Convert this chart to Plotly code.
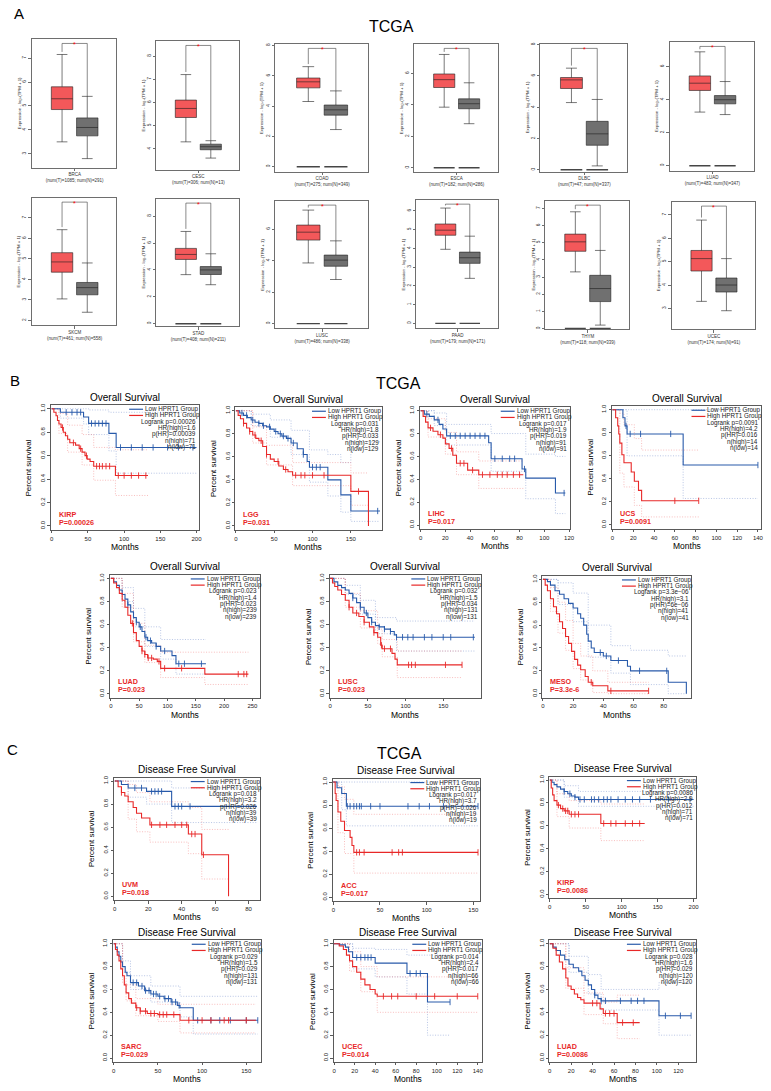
import plotly.graph_objects as go

W, H = 771, 1091
FONT = 'Liberation Sans, Arial, sans-serif'
BLUE = 'rgb(40, 90, 170)'
RED = 'rgb(232, 40, 40)'
BLUE_CI = 'rgba(120, 145, 205, 0.75)'
RED_CI = 'rgba(242, 130, 130, 0.75)'
TUMOR_FILL = 'rgb(243, 88, 90)'
NORMAL_FILL = 'rgb(112, 112, 112)'
FRAME = 'rgb(90, 90, 90)'

# ---------------- Panel A: expression box plots ----------------
BOX_NAMES = ['BRCA', 'CESC', 'COAD', 'ESCA', 'DLBC', 'LUAD',
             'SKCM', 'STAD', 'LUSC', 'PAAD', 'THYM', 'UCEC']
NUM_T = [1085, 306, 275, 182, 47, 483, 461, 408, 486, 179, 118, 174]
NUM_N = [291, 13, 349, 286, 337, 347, 558, 211, 338, 171, 339, 91]

TUMOR_LO = [3.5, 4.3, 4.3, 3.85, 4.3, 3.25, 3.05, 3.65, 3.85, 3.95, 3.3, 3.3]
TUMOR_Q1 = [4.85, 5.35, 5.2, 5.1, 5.2, 4.56, 4.35, 4.78, 5.3, 4.7, 4.5, 4.6]
TUMOR_MED = [5.3, 5.74, 5.6, 5.6, 5.75, 5.0, 4.85, 5.15, 5.8, 4.97, 5.05, 5.13]
TUMOR_Q3 = [5.8, 6.1, 5.85, 5.96, 5.9, 5.44, 5.3, 5.6, 6.25, 5.3, 5.5, 5.48]
TUMOR_HI = [7.15, 7.2, 6.6, 7.2, 6.5, 6.9, 6.42, 6.86, 7.2, 6.15, 6.8, 6.78]

NORMAL_LO = [2.8, 3.6, 2.45, 2.8, 0.25, 3.1, 2.4, 2.9, 2.8, 2.4, 0.2, 2.9]
NORMAL_Q1 = [3.75, 3.96, 3.4, 3.75, 1.57, 3.75, 3.25, 3.66, 3.64, 3.2, 1.57, 3.7]
NORMAL_MED = [4.1, 4.09, 3.75, 4.07, 2.3, 4.0, 3.6, 4.0, 4.03, 3.5, 2.33, 4.0]
NORMAL_Q3 = [4.5, 4.2, 4.07, 4.38, 3.1, 4.25, 3.85, 4.25, 4.35, 3.8, 3.1, 4.3]
NORMAL_HI = [5.4, 4.35, 5.0, 5.4, 4.5, 5.1, 4.8, 5.2, 5.25, 4.65, 4.55, 5.13]

BOX_TICKS = [[3, 4, 5, 6, 7], [4, 5, 6, 7, 8], [0, 2, 4, 6, 8], [0, 2, 4, 6],
             [0, 2, 4, 6, 8], [0, 2, 4, 6], [2, 3, 4, 5, 6, 7], [0, 2, 4, 6, 8],
             [0, 2, 4, 6], [0, 1, 2, 3, 4, 5, 6], [0, 1, 2, 3, 4, 5, 6, 7],
             [3, 4, 5, 6, 7]]
BOX_YRANGE = [(2.42, 7.8), (3.1, 8.65), (-0.33, 8.1), (-0.25, 7.87), (-0.12, 8.05),
              (-0.3, 7.5), (1.76, 7.98), (-0.2, 9.3), (-0.3, 7.8), (-0.27, 6.6),
              (-0.05, 7.45), (2.1, 7.57)]
BOX_PX = [(31, 116, 37, 166), (156, 240, 39, 168), (276, 369, 42, 170),
          (416, 500, 42, 170), (543, 630, 42, 170), (673, 758, 40, 169),
          (31, 116, 196, 324), (156, 240, 197, 325), (276, 369, 199, 327),
          (418, 500, 198, 327), (548, 632, 199, 328), (675, 759, 200, 328)]
GROUP_POS = [1, 2]
ZERO_LEVEL = 0

# ---------------- Panels B / C: Kaplan-Meier curves ----------------
# (months, survival) after each step
KIRP_OS_LOW = [(0, 1), (12, 0.97), (44, 0.93), (51, 0.875), (79, 0.79), (89, 0.67), (200, 0.67)]
KIRP_OS_HIGH = [(0, 1), (3, 0.97), (6, 0.94), (8, 0.9), (10, 0.87), (13, 0.84), (16, 0.8),
                (19, 0.77), (22, 0.74), (25, 0.71), (33, 0.69), (38, 0.66), (42, 0.63),
                (46, 0.6), (49, 0.57), (53, 0.55), (58, 0.51), (88, 0.43), (133, 0.43)]
KIRP_OS_LOW_CI = [(0, 1, 1), (12, 0.92, 1), (44, 0.87, 1), (51, 0.78, 0.99),
                  (79, 0.64, 0.97), (89, 0.45, 0.97), (200, 0.45, 0.97)]
KIRP_OS_HIGH_CI = [(0, 1, 1), (10, 0.79, 0.96), (22, 0.63, 0.86), (42, 0.52, 0.78),
                   (58, 0.39, 0.67), (88, 0.26, 0.65), (133, 0.26, 0.65)]
KIRP_OS_LOW_CENS = [20, 28, 35, 40, 55, 60, 65, 70, 75, 95, 110, 125, 140, 160, 175, 195]
KIRP_OS_HIGH_CENS = [15, 30, 40, 48, 62, 66, 70, 75, 80, 92, 100, 110, 120, 130]

LGG_OS_LOW = [(0, 1), (5, 0.98), (10, 0.96), (15, 0.94), (20, 0.92), (25, 0.9), (30, 0.89),
              (35, 0.87), (40, 0.86), (45, 0.84), (50, 0.82), (55, 0.8), (60, 0.78),
              (66, 0.76), (72, 0.72), (80, 0.67), (88, 0.62), (93, 0.56), (96, 0.51),
              (120, 0.4), (137, 0.27), (150, 0.13), (188, 0.13)]
LGG_OS_HIGH = [(0, 1), (3, 0.96), (6, 0.93), (10, 0.89), (14, 0.85), (18, 0.82), (22, 0.79),
               (26, 0.76), (30, 0.74), (35, 0.69), (40, 0.62), (45, 0.58), (50, 0.56),
               (56, 0.52), (62, 0.49), (68, 0.47), (74, 0.44), (150, 0.3), (173, 0.0)]
LGG_OS_LOW_CI = [(0, 1, 1), (20, 0.87, 0.97), (45, 0.77, 0.92), (72, 0.62, 0.83),
                 (96, 0.38, 0.66), (120, 0.26, 0.62), (137, 0.12, 0.55), (150, 0.04, 0.73),
                 (188, 0.04, 0.73)]
LGG_OS_HIGH_CI = [(0, 1, 1), (22, 0.72, 0.86), (40, 0.53, 0.7), (74, 0.35, 0.55),
                  (150, 0.18, 0.46), (173, 0.0, 0.46)]
LGG_OS_LOW_CENS = [8, 14, 22, 30, 36, 44, 52, 58, 62, 68, 75, 88, 100, 105, 110, 185]
LGG_OS_HIGH_CENS = [10, 18, 25, 33, 40, 55, 65, 78, 85, 90, 100, 115, 160]

LIHC_OS_LOW = [(0, 1), (3, 0.97), (7, 0.95), (11, 0.92), (15, 0.88), (18, 0.84), (21, 0.78),
               (55, 0.72), (57, 0.58), (82, 0.49), (85, 0.41), (109, 0.28), (117, 0.28)]
LIHC_OS_HIGH = [(0, 1), (2, 0.95), (4, 0.9), (6, 0.85), (10, 0.82), (14, 0.79), (18, 0.76),
                (20, 0.71), (23, 0.67), (26, 0.61), (29, 0.54), (38, 0.48), (47, 0.44),
                (83, 0.44)]
LIHC_OS_LOW_CI = [(0, 1, 1), (11, 0.87, 0.98), (21, 0.7, 0.88), (57, 0.47, 0.8),
                  (85, 0.23, 0.62), (109, 0.1, 0.6), (117, 0.1, 0.6)]
LIHC_OS_HIGH_CI = [(0, 1, 1), (6, 0.77, 0.93), (20, 0.62, 0.81), (29, 0.44, 0.64),
                   (47, 0.32, 0.56), (83, 0.32, 0.56)]
LIHC_OS_LOW_CENS = [5, 14, 24, 28, 32, 36, 40, 44, 48, 52, 60, 66, 72, 76, 84, 116]
LIHC_OS_HIGH_CENS = [8, 16, 25, 32, 35, 42, 50, 56, 62, 66, 70, 75, 80]

UCS_OS_LOW = [(0, 1), (10, 0.93), (12, 0.86), (14, 0.79), (68, 0.52), (140, 0.52)]
UCS_OS_HIGH = [(0, 1), (3, 0.93), (5, 0.86), (6, 0.79), (7, 0.71), (9, 0.61), (11, 0.54),
               (18, 0.46), (21, 0.38), (25, 0.3), (28, 0.21), (83, 0.21)]
UCS_OS_LOW_CI = [(0, 1, 1), (14, 0.6, 1), (68, 0.23, 1), (140, 0.23, 1)]
UCS_OS_HIGH_CI = [(0, 1, 1), (7, 0.45, 0.97), (11, 0.33, 0.87), (21, 0.17, 0.75),
                  (28, 0.07, 0.65), (83, 0.07, 0.65)]
UCS_OS_LOW_CENS = [13, 17, 27, 56, 140]
UCS_OS_HIGH_CENS = [60, 83]

LUAD_OS_LOW = [(0, 1), (5, 0.97), (10, 0.94), (15, 0.9), (20, 0.86), (25, 0.82), (30, 0.77),
               (35, 0.71), (40, 0.66), (45, 0.62), (50, 0.58), (55, 0.54), (60, 0.49),
               (65, 0.46), (72, 0.44), (80, 0.41), (88, 0.37), (108, 0.33), (115, 0.26),
               (168, 0.26)]
LUAD_OS_HIGH = [(0, 1), (5, 0.96), (10, 0.92), (15, 0.87), (20, 0.81), (25, 0.75), (30, 0.68),
                (35, 0.61), (40, 0.53), (45, 0.46), (50, 0.41), (55, 0.37), (60, 0.34),
                (65, 0.31), (75, 0.3), (82, 0.28), (88, 0.22), (166, 0.17), (243, 0.17)]
LUAD_OS_LOW_CI = [(0, 1, 1), (20, 0.8, 0.92), (40, 0.58, 0.74), (60, 0.41, 0.58),
                  (88, 0.3, 0.47), (115, 0.17, 0.47), (168, 0.17, 0.47)]
LUAD_OS_HIGH_CI = [(0, 1, 1), (20, 0.75, 0.87), (40, 0.45, 0.61), (60, 0.27, 0.42),
                   (88, 0.14, 0.36), (166, 0.08, 0.36), (243, 0.08, 0.36)]
LUAD_OS_LOW_CENS = [30, 45, 52, 62, 70, 80, 95, 120, 130, 160]
LUAD_OS_HIGH_CENS = [38, 55, 60, 66, 72, 85, 95, 125, 225, 235, 240]

LUSC_OS_LOW = [(0, 1), (5, 0.97), (10, 0.94), (15, 0.92), (20, 0.9), (25, 0.87), (30, 0.83),
               (35, 0.79), (40, 0.75), (45, 0.7), (50, 0.66), (55, 0.62), (60, 0.59),
               (65, 0.58), (72, 0.56), (80, 0.54), (85, 0.51), (88, 0.49), (192, 0.49)]
LUSC_OS_HIGH = [(0, 1), (3, 0.96), (6, 0.93), (10, 0.9), (15, 0.86), (20, 0.81), (25, 0.75),
                (30, 0.7), (38, 0.67), (45, 0.62), (52, 0.58), (58, 0.53), (63, 0.49),
                (67, 0.42), (69, 0.39), (82, 0.35), (86, 0.3), (89, 0.25), (175, 0.25)]
LUSC_OS_LOW_CI = [(0, 1, 1), (20, 0.86, 0.94), (40, 0.69, 0.81), (60, 0.52, 0.66),
                  (88, 0.37, 0.63), (192, 0.37, 0.63)]
LUSC_OS_HIGH_CI = [(0, 1, 1), (20, 0.75, 0.87), (40, 0.57, 0.72), (63, 0.43, 0.56),
                   (69, 0.32, 0.47), (89, 0.14, 0.37), (175, 0.14, 0.37)]
LUSC_OS_LOW_CENS = [30, 40, 48, 55, 65, 72, 80, 88, 96, 103, 110, 125, 135, 150, 160, 190]
LUSC_OS_HIGH_CENS = [25, 35, 45, 58, 68, 72, 80, 104, 108, 113, 153, 175]

MESO_OS_LOW = [(0, 1), (3, 0.98), (5, 0.95), (8, 0.9), (11, 0.87), (14, 0.83), (17, 0.79),
               (20, 0.75), (23, 0.7), (25, 0.66), (27, 0.6), (29, 0.52), (30, 0.46),
               (32, 0.4), (34, 0.36), (40, 0.33), (45, 0.29), (56, 0.24), (58, 0.2),
               (83, 0.1), (95, 0.0)]
MESO_OS_HIGH = [(0, 1), (1.5, 0.95), (3, 0.9), (5, 0.83), (7, 0.76), (9, 0.7), (11, 0.63),
                (13, 0.57), (15, 0.5), (17, 0.44), (19, 0.37), (21, 0.3), (23, 0.25),
                (25, 0.21), (28, 0.15), (30, 0.1), (33, 0.07), (43, 0.025), (70, 0.025)]
MESO_OS_LOW_CI = [(0, 1, 1), (10, 0.78, 0.97), (20, 0.63, 0.88), (30, 0.32, 0.6),
                  (45, 0.18, 0.42), (58, 0.08, 0.38), (83, 0.0, 0.33), (95, 0.0, 0.33)]
MESO_OS_HIGH_CI = [(0, 1, 1), (5, 0.72, 0.93), (10, 0.53, 0.8), (15, 0.38, 0.64),
                   (20, 0.22, 0.44), (25, 0.12, 0.33), (33, 0.01, 0.2), (43, 0.0, 0.1),
                   (70, 0.0, 0.1)]
MESO_OS_LOW_CENS = [38, 42, 50, 64, 82]
MESO_OS_HIGH_CENS = [32, 45, 70]

UVM_DFS_LOW = [(0, 1), (4, 0.97), (8, 0.94), (19, 0.91), (34, 0.78), (85, 0.78)]
UVM_DFS_HIGH = [(0, 1), (2, 0.95), (4, 0.9), (6, 0.87), (8, 0.82), (11, 0.77), (13, 0.72),
                (16, 0.68), (21, 0.62), (44, 0.54), (52, 0.36), (68, 0.0)]
UVM_DFS_LOW_CI = [(0, 1, 1), (8, 0.86, 1), (19, 0.8, 1), (34, 0.64, 0.94), (85, 0.64, 0.94)]
UVM_DFS_HIGH_CI = [(0, 1, 1), (8, 0.67, 0.97), (13, 0.56, 0.9), (21, 0.47, 0.82),
                   (44, 0.37, 0.77), (52, 0.15, 0.58), (68, 0.15, 0.58)]
UVM_DFS_LOW_CENS = [12, 16, 22, 24, 26, 28, 36, 38, 40, 45]
UVM_DFS_HIGH_CENS = [4, 22, 27, 31, 36, 40, 43, 46, 48, 53]

ACC_DFS_LOW = [(0, 1), (4, 0.95), (9, 0.9), (14, 0.79), (155, 0.79)]
ACC_DFS_HIGH = [(0, 1), (2, 0.9), (3, 0.84), (5, 0.74), (8, 0.66), (12, 0.58), (18, 0.52),
                (20, 0.45), (22, 0.39), (155, 0.39)]
ACC_DFS_LOW_CI = [(0, 1, 1), (9, 0.76, 1), (14, 0.62, 1), (155, 0.62, 1)]
ACC_DFS_HIGH_CI = [(0, 1, 1), (5, 0.56, 0.96), (12, 0.38, 0.85), (22, 0.21, 0.72),
                   (155, 0.21, 0.72)]
ACC_DFS_LOW_CENS = [15, 18, 22, 25, 28, 30, 40, 50, 80, 92, 103, 118, 155]
ACC_DFS_HIGH_CENS = [25, 28, 33, 63, 70, 74, 155]

KIRP_DFS_LOW = [(0, 1), (3, 0.98), (6, 0.96), (10, 0.94), (15, 0.92), (20, 0.9), (25, 0.88),
                (30, 0.86), (35, 0.85), (40, 0.83), (200, 0.83)]
KIRP_DFS_HIGH = [(0, 1), (2, 0.93), (4, 0.87), (6, 0.82), (10, 0.78), (15, 0.75), (20, 0.73),
                 (27, 0.7), (71, 0.62), (132, 0.62)]
KIRP_DFS_LOW_CI = [(0, 1, 1), (20, 0.85, 0.95), (40, 0.77, 0.9), (200, 0.77, 0.9)]
KIRP_DFS_HIGH_CI = [(0, 1, 1), (10, 0.68, 0.88), (27, 0.58, 0.82), (71, 0.47, 0.79),
                    (132, 0.47, 0.79)]
KIRP_DFS_LOW_CENS = [20, 28, 35, 42, 48, 58, 62, 68, 75, 80, 85, 95, 105, 115, 125, 140, 165, 195]
KIRP_DFS_HIGH_CENS = [12, 18, 22, 25, 30, 35, 40, 75, 85, 92, 105, 115, 125]

SARC_DFS_LOW = [(0, 1), (2, 0.97), (4, 0.93), (6, 0.89), (8, 0.84), (10, 0.8), (13, 0.75),
                (15, 0.72), (19, 0.66), (28, 0.63), (35, 0.59), (42, 0.56), (50, 0.54),
                (57, 0.52), (65, 0.49), (72, 0.46), (75, 0.44), (90, 0.33), (163, 0.33)]
SARC_DFS_HIGH = [(0, 1), (2, 0.95), (4, 0.9), (6, 0.85), (8, 0.78), (10, 0.72), (12, 0.64),
                 (14, 0.57), (17, 0.52), (20, 0.48), (25, 0.44), (30, 0.41), (38, 0.39),
                 (50, 0.38), (75, 0.33), (161, 0.33)]
SARC_DFS_LOW_CI = [(0, 1, 1), (10, 0.75, 0.85), (19, 0.6, 0.72), (42, 0.49, 0.63),
                   (75, 0.36, 0.54), (90, 0.21, 0.54), (163, 0.21, 0.54)]
SARC_DFS_HIGH_CI = [(0, 1, 1), (10, 0.66, 0.78), (14, 0.5, 0.64), (25, 0.37, 0.52),
                    (50, 0.32, 0.47), (75, 0.22, 0.47), (161, 0.22, 0.47)]
SARC_DFS_LOW_CENS = [22, 26, 32, 36, 40, 45, 48, 52, 58, 62, 66, 70, 74, 95, 110, 120, 132, 150, 163]
SARC_DFS_HIGH_CENS = [26, 30, 36, 42, 46, 52, 56, 60, 68, 85, 100, 110, 125, 130, 150]

UCEC_DFS_LOW = [(0, 1), (5, 0.99), (11, 0.97), (14, 0.93), (18, 0.88), (40, 0.83),
                (71, 0.74), (91, 0.49), (113, 0.49)]
UCEC_DFS_HIGH = [(0, 1), (5, 0.98), (9, 0.95), (12, 0.9), (15, 0.85), (18, 0.8), (22, 0.75),
                 (26, 0.69), (30, 0.64), (35, 0.6), (40, 0.56), (42, 0.54), (140, 0.54)]
UCEC_DFS_LOW_CI = [(0, 1, 1), (18, 0.78, 0.96), (40, 0.71, 0.95), (71, 0.56, 0.9),
                   (91, 0.2, 0.9), (113, 0.2, 0.9)]
UCEC_DFS_HIGH_CI = [(0, 1, 1), (15, 0.76, 0.93), (26, 0.58, 0.8), (42, 0.4, 0.71),
                    (140, 0.4, 0.71)]
UCEC_DFS_LOW_CENS = [22, 26, 30, 33, 36, 74, 80, 84, 113]
UCEC_DFS_HIGH_CENS = [48, 56, 62, 80, 98, 120, 140]

LUAD_DFS_LOW = [(0, 1), (3, 0.97), (6, 0.94), (10, 0.9), (14, 0.86), (18, 0.82), (22, 0.79),
                (27, 0.76), (30, 0.72), (33, 0.68), (36, 0.64), (39, 0.6), (42, 0.55),
                (45, 0.52), (48, 0.5), (102, 0.37), (132, 0.37)]
LUAD_DFS_HIGH = [(0, 1), (3, 0.96), (6, 0.9), (9, 0.84), (12, 0.78), (15, 0.7), (17, 0.63),
                 (20, 0.6), (23, 0.56), (26, 0.53), (29, 0.51), (32, 0.48), (47, 0.43),
                 (50, 0.39), (63, 0.31), (84, 0.31)]
LUAD_DFS_LOW_CI = [(0, 1, 1), (18, 0.75, 0.89), (36, 0.56, 0.73), (48, 0.42, 0.6),
                   (102, 0.2, 0.66), (132, 0.2, 0.66)]
LUAD_DFS_HIGH_CI = [(0, 1, 1), (15, 0.61, 0.79), (32, 0.38, 0.57), (50, 0.3, 0.49),
                    (63, 0.17, 0.55), (84, 0.17, 0.55)]
LUAD_DFS_LOW_CENS = [42, 48, 52, 66, 76, 82, 88, 108, 122, 132]
LUAD_DFS_HIGH_CENS = [40, 44, 52, 56, 60, 68, 78]

OS = 'Overall Survival'
DFS = 'Disease Free Survival'

KM_PANELS = [
    dict(px=(50, 199, 404, 529), xr=(-1.4, 203), step=50, xmax=200, title=OS,
         low=KIRP_OS_LOW, high=KIRP_OS_HIGH, low_ci=KIRP_OS_LOW_CI, high_ci=KIRP_OS_HIGH_CI,
         low_c=KIRP_OS_LOW_CENS, high_c=KIRP_OS_HIGH_CENS,
         stats=['Logrank p=0.00026', 'HR(high)=1.6', 'p(HR)=0.00039', 'n(high)=71', 'n(low)=71'],
         label='KIRP', p='P=0.00026'),
    dict(px=(236, 383, 406, 529), xr=(-0.5, 190), step=50, xmax=150, title=OS,
         low=LGG_OS_LOW, high=LGG_OS_HIGH, low_ci=LGG_OS_LOW_CI, high_ci=LGG_OS_HIGH_CI,
         low_c=LGG_OS_LOW_CENS, high_c=LGG_OS_HIGH_CENS,
         stats=['Logrank p=0.031', 'HR(high)=1.8', 'p(HR)=0.033', 'n(high)=129', 'n(low)=129'],
         label='LGG', p='P=0.031'),
    dict(px=(422, 573, 406, 528), xr=(-0.3, 121), step=20, xmax=120, title=OS,
         low=LIHC_OS_LOW, high=LIHC_OS_HIGH, low_ci=LIHC_OS_LOW_CI, high_ci=LIHC_OS_HIGH_CI,
         low_c=LIHC_OS_LOW_CENS, high_c=LIHC_OS_HIGH_CENS,
         stats=['Logrank p=0.017', 'HR(high)=1.9', 'p(HR)=0.019', 'n(high)=91', 'n(low)=91'],
         label='LIHC', p='P=0.017'),
    dict(px=(615, 765, 405, 528), xr=(-0.5, 143), step=20, xmax=140, title=OS,
         low=UCS_OS_LOW, high=UCS_OS_HIGH, low_ci=UCS_OS_LOW_CI, high_ci=UCS_OS_HIGH_CI,
         low_c=UCS_OS_LOW_CENS, high_c=UCS_OS_HIGH_CENS,
         stats=['Logrank p=0.0091', 'HR(high)=4.2', 'p(HR)=0.016', 'n(high)=14', 'n(low)=14'],
         label='UCS', p='P=0.0091'),
    dict(px=(110, 261, 574, 697), xr=(-1, 264), step=50, xmax=250, title=OS,
         low=LUAD_OS_LOW, high=LUAD_OS_HIGH, low_ci=LUAD_OS_LOW_CI, high_ci=LUAD_OS_HIGH_CI,
         low_c=LUAD_OS_LOW_CENS, high_c=LUAD_OS_HIGH_CENS,
         stats=['Logrank p=0.023', 'HR(high)=1.4', 'p(HR)=0.023', 'n(high)=239', 'n(low)=239'],
         label='LUAD', p='P=0.023'),
    dict(px=(331, 483, 574, 697), xr=(-0.5, 200), step=50, xmax=150, title=OS,
         low=LUSC_OS_LOW, high=LUSC_OS_HIGH, low_ci=LUSC_OS_LOW_CI, high_ci=LUSC_OS_HIGH_CI,
         low_c=LUSC_OS_LOW_CENS, high_c=LUSC_OS_HIGH_CENS,
         stats=['Logrank p=0.032', 'HR(high)=1.5', 'p(HR)=0.034', 'n(high)=131', 'n(low)=131'],
         label='LUSC', p='P=0.023'),
    dict(px=(545, 695, 575, 697), xr=(-0.3, 98.4), step=20, xmax=80, title=OS,
         low=MESO_OS_LOW, high=MESO_OS_HIGH, low_ci=MESO_OS_LOW_CI, high_ci=MESO_OS_HIGH_CI,
         low_c=MESO_OS_LOW_CENS, high_c=MESO_OS_HIGH_CENS,
         stats=['Logrank p=3.3e\u221206', 'HR(high)=3.1', 'p(HR)=6e\u221206', 'n(high)=41', 'n(low)=41'],
         label='MESO', p='P=3.3e-6'),
    dict(px=(114, 261, 777, 900), xr=(-0.3, 87), step=20, xmax=80, title=DFS,
         low=UVM_DFS_LOW, high=UVM_DFS_HIGH, low_ci=UVM_DFS_LOW_CI, high_ci=UVM_DFS_HIGH_CI,
         low_c=UVM_DFS_LOW_CENS, high_c=UVM_DFS_HIGH_CENS,
         stats=['Logrank p=0.018', 'HR(high)=3.2', 'p(HR)=0.026', 'n(high)=39', 'n(low)=39'],
         label='UVM', p='P=0.018'),
    dict(px=(334, 482, 778, 901), xr=(-0.5, 157), step=50, xmax=150, title=DFS,
         low=ACC_DFS_LOW, high=ACC_DFS_HIGH, low_ci=ACC_DFS_LOW_CI, high_ci=ACC_DFS_HIGH_CI,
         low_c=ACC_DFS_LOW_CENS, high_c=ACC_DFS_HIGH_CENS,
         stats=['Logrank p=0.017', 'HR(high)=3.7', 'p(HR)=0.026', 'n(high)=19', 'n(low)=19'],
         label='ACC', p='P=0.017'),
    dict(px=(552, 700, 776, 898), xr=(-0.5, 204), step=50, xmax=200, title=DFS,
         low=KIRP_DFS_LOW, high=KIRP_DFS_HIGH, low_ci=KIRP_DFS_LOW_CI, high_ci=KIRP_DFS_HIGH_CI,
         low_c=KIRP_DFS_LOW_CENS, high_c=KIRP_DFS_HIGH_CENS,
         stats=['Logrank p=0.0086', 'HR(high)=2.9', 'p(HR)=0.012', 'n(high)=71', 'n(low)=71'],
         label='KIRP', p='P=0.0086'),
    dict(px=(113, 262, 940, 1062), xr=(-0.5, 167), step=50, xmax=150, title=DFS,
         low=SARC_DFS_LOW, high=SARC_DFS_HIGH, low_ci=SARC_DFS_LOW_CI, high_ci=SARC_DFS_HIGH_CI,
         low_c=SARC_DFS_LOW_CENS, high_c=SARC_DFS_HIGH_CENS,
         stats=['Logrank p=0.029', 'HR(high)=1.5', 'p(HR)=0.029', 'n(high)=131', 'n(low)=131'],
         label='SARC', p='P=0.029'),
    dict(px=(335, 484, 940, 1062), xr=(-0.3, 144), step=20, xmax=140, title=DFS,
         low=UCEC_DFS_LOW, high=UCEC_DFS_HIGH, low_ci=UCEC_DFS_LOW_CI, high_ci=UCEC_DFS_HIGH_CI,
         low_c=UCEC_DFS_LOW_CENS, high_c=UCEC_DFS_HIGH_CENS,
         stats=['Logrank p=0.014', 'HR(high)=2.4', 'p(HR)=0.017', 'n(high)=66', 'n(low)=66'],
         label='UCEC', p='P=0.014'),
    dict(px=(552, 700, 940, 1062), xr=(-0.3, 137), step=20, xmax=120, title=DFS,
         low=LUAD_DFS_LOW, high=LUAD_DFS_HIGH, low_ci=LUAD_DFS_LOW_CI, high_ci=LUAD_DFS_HIGH_CI,
         low_c=LUAD_DFS_LOW_CENS, high_c=LUAD_DFS_HIGH_CENS,
         stats=['Logrank p=0.028', 'HR(high)=1.6', 'p(HR)=0.029', 'n(high)=120', 'n(low)=120'],
         label='LUAD', p='P=0.0086'),
]

fig = go.Figure()
layout = {}
annotations = []
shapes = []


def px_x(x):
    return x / W


def px_y(y):
    return 1 - y / H


def text(x, y, s, size, color='black', xanchor='center', angle=0, bold=False, family=FONT):
    if bold:
        s = '<b>' + s + '</b>'
    annotations.append(dict(
        x=px_x(x), y=px_y(y), xref='paper', yref='paper', text=s, showarrow=False,
        xanchor=xanchor, yanchor='middle', textangle=angle, borderpad=0,
        font=dict(size=size, color=color, family=family),
    ))


def axes(n, box, xr, yr, xaxis_extra, yaxis_extra, line_color):
    x0, x1, y0, y1 = box
    base = dict(showline=True, mirror=True, linecolor=line_color, linewidth=0.8,
                showgrid=False, zeroline=False, ticks='outside', tickcolor=line_color,
                ticklen=2.5, tickwidth=0.6)
    xa = dict(base, domain=[px_x(x0), px_x(x1)], range=list(xr), anchor='y%d' % n)
    ya = dict(base, domain=[px_y(y1), px_y(y0)], range=list(yr), anchor='x%d' % n)
    xa.update(xaxis_extra)
    ya.update(yaxis_extra)
    layout['xaxis%d' % n] = xa
    layout['yaxis%d' % n] = ya
    return 'x%d' % n, 'y%d' % n


n_axis = 0

# ---------- Panel A ----------
for i, name in enumerate(BOX_NAMES):
    n_axis += 1
    box = BOX_PX[i]
    yr = BOX_YRANGE[i]
    xa, ya = axes(
        n_axis, box, (-0.2, 3.15), yr,
        dict(tickvals=[1.5], ticktext=['%s<br>(num(T)=%d; num(N)=%d)' % (name, NUM_T[i], NUM_N[i])],
             tickfont=dict(size=4.5, family=FONT, color='#333')),
        dict(tickvals=BOX_TICKS[i], tickangle=-90, tickfont=dict(size=4.8, family=FONT, color='#333')),
        'rgb(110,110,110)',
    )
    groups = [
        (TUMOR_LO, TUMOR_Q1, TUMOR_MED, TUMOR_Q3, TUMOR_HI, TUMOR_FILL),
        (NORMAL_LO, NORMAL_Q1, NORMAL_MED, NORMAL_Q3, NORMAL_HI, NORMAL_FILL),
    ]
    for pos, (lo, q1, med, q3, hi, fill) in zip(GROUP_POS, groups):
        # zero-expression baseline bar
        fig.add_trace(go.Scatter(
            x=[pos - 0.42, pos + 0.42], y=[ZERO_LEVEL, ZERO_LEVEL], mode='lines',
            line=dict(color='rgb(70,70,70)', width=1.4), xaxis=xa, yaxis=ya,
            showlegend=False, hoverinfo='skip',
        ))
        fig.add_trace(go.Box(
            x=[pos], q1=[q1[i]], median=[med[i]], q3=[q3[i]],
            lowerfence=[lo[i]], upperfence=[hi[i]],
            fillcolor=fill, line=dict(color='rgb(30,30,30)', width=0.6),
            width=0.85, whiskerwidth=0.5, boxpoints=False,
            xaxis=xa, yaxis=ya, showlegend=False,
        ))
    span = yr[1] - yr[0]
    top = yr[1] - 0.035 * span
    fig.add_trace(go.Scatter(
        x=[GROUP_POS[0], GROUP_POS[0], GROUP_POS[1], GROUP_POS[1]],
        y=[TUMOR_HI[i] + 0.02 * span, top, top, NORMAL_HI[i]],
        mode='lines', line=dict(color='rgb(60,60,60)', width=0.6),
        xaxis=xa, yaxis=ya, showlegend=False, hoverinfo='skip',
    ))
    annotations.append(dict(
        x=sum(GROUP_POS) / 2, y=top, xref=xa, yref=ya, text='*', showarrow=False,
        yanchor='middle', font=dict(size=7, color='red', family=FONT), yshift=-1,
    ))
    x0, x1, y0, y1 = box
    text(x0 - 13, (y0 + y1) / 2, 'Expression - log\u2082(TPM + 1)', 4.3, color='#333', angle=-90)


def surv_at(curve, t):
    s = curve[0][1]
    for ct, cs in curve:
        if ct <= t:
            s = cs
        else:
            break
    return s


# ---------- Panels B / C ----------
for p in KM_PANELS:
    n_axis += 1
    x0, x1, y0, y1 = p['px']
    xa, ya = axes(
        n_axis, p['px'], p['xr'], (-0.035, 1.03),
        dict(tickvals=list(range(0, p['xmax'] + 1, p['step'])),
             tickfont=dict(size=6, family=FONT, color='#222')),
        dict(tickvals=[0, 0.2, 0.4, 0.6, 0.8, 1.0], ticktext=['0.0', '0.2', '0.4', '0.6', '0.8', '1.0'],
             tickangle=-90, tickfont=dict(size=6, family=FONT, color='#222')),
        FRAME,
    )
    for ci, col in ((p['low_ci'], BLUE_CI), (p['high_ci'], RED_CI)):
        for k in (1, 2):
            fig.add_trace(go.Scatter(
                x=[c[0] for c in ci], y=[c[k] for c in ci], mode='lines',
                line=dict(color=col, width=0.7, dash='1px,1.6px', shape='hv'),
                xaxis=xa, yaxis=ya, showlegend=False, hoverinfo='skip',
            ))
    for curve, cens, col in ((p['low'], p['low_c'], BLUE), (p['high'], p['high_c'], RED)):
        fig.add_trace(go.Scatter(
            x=[c[0] for c in curve], y=[c[1] for c in curve], mode='lines',
            line=dict(color=col, width=1.1, shape='hv'),
            xaxis=xa, yaxis=ya, showlegend=False,
        ))
        fig.add_trace(go.Scatter(
            x=cens, y=[surv_at(curve, t) for t in cens], mode='markers',
            marker=dict(symbol='line-ns-open', size=4.5, color=col, line=dict(color=col, width=0.9)),
            xaxis=xa, yaxis=ya, showlegend=False, hoverinfo='skip',
        ))
    cx = (x0 + x1) / 2
    text(cx, y0 - 8, p['title'], 10)
    text(cx, y1 + 17, 'Months', 8.5)
    text(x0 - 22, (y0 + y1) / 2, 'Percent survival', 8, angle=-90)
    # legend
    for k, (lab, col) in enumerate((('Low HPRT1 Group', BLUE), ('High HPRT1 Group', RED))):
        yy = y0 + 4 + 6.2 * k
        shapes.append(dict(type='line', xref='paper', yref='paper',
                           x0=px_x(x1 - 70), x1=px_x(x1 - 56), y0=px_y(yy), y1=px_y(yy),
                           line=dict(color=col, width=1.2)))
        text(x1 - 55, yy, lab, 6.3, color='#222', xanchor='left')
    for k, s in enumerate(p['stats']):
        text(x1 - 2, y0 + 16.5 + 6.3 * k, s, 6.3, color='#222', xanchor='right')
    text(x0 + 7, y1 - 16, p['label'], 7.2, color=RED, xanchor='left', bold=True)
    text(x0 + 7, y1 - 8, p['p'], 7.2, color=RED, xanchor='left', bold=True)

# panel letters and titles
text(18, 12, 'A', 15)
text(393, 25, 'TCGA', 16)
text(14, 379, 'B', 15)
text(400, 382, 'TCGA', 16)
text(12, 749, 'C', 15)
text(401, 753, 'TCGA', 16, family='Liberation Sans Narrow, Arial Narrow, ' + FONT)

fig.update_layout(
    width=W, height=H,
    margin=dict(l=0, r=0, t=0, b=0),
    paper_bgcolor='white', plot_bgcolor='white',
    showlegend=False,
    annotations=annotations,
    shapes=shapes,
    font=dict(family=FONT),
    **layout,
)

# the default page adds a body margin; remove it so the figure sits at the window origin
fig.write_html('out.html', config={'displayModeBar': False},
               post_script="document.body.style.margin = '0';")
